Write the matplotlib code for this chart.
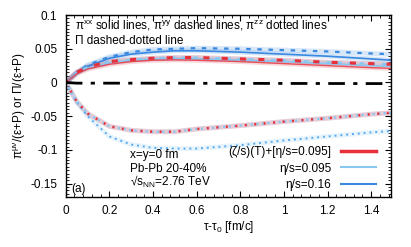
import numpy as np
import matplotlib
matplotlib.use('Agg')
import matplotlib.pyplot as plt
from matplotlib.ticker import AutoMinorLocator

plt.rcParams['font.family'] = ['Liberation Sans', 'DejaVu Sans']
plt.rcParams['mathtext.default'] = 'regular'

# proper time tau - tau0 [fm/c]
tau = [0.0, 0.05, 0.1, 0.2, 0.3, 0.4, 0.5, 0.6, 0.8, 1.0, 1.2, 1.4, 1.49]

# (zeta/s)(T) + eta/s=0.095
bulk_xx = [0.0, 0.013, 0.020, 0.027, 0.031, 0.033, 0.0335, 0.033, 0.031, 0.028, 0.025, 0.022, 0.021]
bulk_yy = [0.0, 0.015, 0.023, 0.031, 0.034, 0.036, 0.037, 0.037, 0.035, 0.033, 0.030, 0.028, 0.027]
bulk_zz = [0.0, -0.028, -0.046, -0.065, -0.071, -0.073, -0.073, -0.069, -0.064, -0.058, -0.053, -0.047, -0.045]
bulk_pi = [0.0, -0.001, -0.001, -0.001, -0.001, -0.001, -0.001, -0.0012, -0.0013, -0.0014, -0.0015, -0.0016, -0.0016]

# eta/s = 0.095
eta1_xx = [0.0, 0.014, 0.021, 0.029, 0.033, 0.035, 0.0355, 0.035, 0.033, 0.031, 0.028, 0.025, 0.024]
eta1_yy = [0.0, 0.015, 0.023, 0.031, 0.034, 0.036, 0.037, 0.037, 0.035, 0.033, 0.030, 0.028, 0.027]
eta1_zz = [0.0, -0.028, -0.046, -0.065, -0.071, -0.073, -0.073, -0.069, -0.064, -0.058, -0.053, -0.047, -0.045]

# eta/s = 0.16
eta2_xx = [0.0, 0.014, 0.024, 0.036, 0.042, 0.045, 0.047, 0.047, 0.045, 0.042, 0.039, 0.035, 0.033]
eta2_yy = [0.0, 0.015, 0.026, 0.038, 0.045, 0.049, 0.050, 0.051, 0.050, 0.048, 0.046, 0.043, 0.042]
eta2_zz = [0.0, -0.029, -0.050, -0.080, -0.092, -0.097, -0.098, -0.098, -0.093, -0.086, -0.080, -0.074, -0.072]

red = '#e8303a'
lblue = '#87c8f2'
blue = '#3a88e0'
fs = 8.5

fig = plt.figure(figsize=(4.11, 2.47), dpi=100)
ax = fig.add_axes([0.16, 0.202, 0.791, 0.737])

# soft band under each curve
for ys, c in [(eta2_yy, blue), (eta2_xx, blue), (eta1_yy, lblue), (eta1_xx, lblue),
              (bulk_yy, red), (bulk_xx, red), (eta1_zz, lblue), (bulk_zz, red), (eta2_zz, lblue)]:
    ax.plot(tau, ys, color=c, lw=3.5, alpha=0.2, solid_capstyle='butt')

ax.plot(tau, eta2_xx, color=blue, lw=1.2)
ax.plot(tau, eta2_yy, color=blue, lw=1.6, ls=(0, (2, 3)))
ax.plot(tau, eta2_zz, color='#5aaaf0', lw=1.4, ls=(0, (1, 2)))

ax.plot(tau, eta1_xx, color=lblue, lw=1.2)
ax.plot(tau, eta1_yy, color=lblue, lw=1.6, ls=(0, (2, 3)))
ax.plot(tau, eta1_zz, color=lblue, lw=1.6, ls=(0, (1, 1.5)))

ax.plot(tau, bulk_xx, color=red, lw=1.0, alpha=0.8)
ax.plot(tau, bulk_yy, color=red, lw=2.2, ls=(1, (2, 4)))
ax.plot(tau, bulk_zz, color=red, lw=1.8, ls=(0, (0.8, 3)))
ax.plot(tau, bulk_pi, color='black', lw=2.0, ls=(0, (6, 3, 1.5, 3)))

# legend handles
ax.plot([], [], color=red, lw=2.5, label='(ζ/s)(T)+[η/s=0.095]')
ax.plot([], [], color=lblue, lw=1.5, label='η/s=0.095')
ax.plot([], [], color=blue, lw=1.5, label='η/s=0.16')
handles, labels = ax.get_legend_handles_labels()
ax.legend(handles[-3:], labels[-3:], loc='lower right', bbox_to_anchor=(0.98, -0.01),
          markerfirst=False, frameon=False, fontsize=fs, handlelength=3.0,
          labelspacing=0.35, handletextpad=0.8, borderpad=0.2)

ax.set_xlim(0, 1.49)
ax.set_ylim(-0.17, 0.1)
ax.set_xticks([0, 0.2, 0.4, 0.6, 0.8, 1.0, 1.2, 1.4])
ax.set_xticklabels(['0', '0.2', '0.4', '0.6', '0.8', '1', '1.2', '1.4'])
ax.set_yticks([-0.15, -0.1, -0.05, 0, 0.05, 0.1])
ax.set_yticklabels(['-0.15', '-0.1', '-0.05', '0', '0.05', '0.1'])
ax.xaxis.set_minor_locator(AutoMinorLocator(5))
ax.yaxis.set_minor_locator(AutoMinorLocator(10))
ax.tick_params(which='both', direction='in', top=True, right=True, labelsize=fs, pad=6)
ax.tick_params(which='major', length=4, width=0.8)
ax.tick_params(which='minor', length=2, width=0.6)
for s in ax.spines.values():
    s.set_linewidth(1.0)

ax.set_xlabel('τ-τ$_0$ [fm/c]', fontsize=fs, labelpad=1)
ax.set_ylabel('π$^{μν}$/(ε+P) or Π/(ε+P)', fontsize=fs, labelpad=2)

ax.text(0.028, 0.94, 'π$^{xx}$ solid lines, π$^{yy}$ dashed lines, π$^{zz}$ dotted lines',
        transform=ax.transAxes, fontsize=fs, va='center')
ax.text(0.028, 0.857, 'Π dashed-dotted line', transform=ax.transAxes, fontsize=fs, va='center')
ax.text(0.197, 0.23, 'x=y=0 fm', transform=ax.transAxes, fontsize=fs, va='center')
ax.text(0.197, 0.154, 'Pb-Pb 20-40%', transform=ax.transAxes, fontsize=fs, va='center')
ax.text(0.197, 0.085, '√s$_{NN}$=2.76 TeV', transform=ax.transAxes, fontsize=fs, va='center')
ax.text(0.018, 0.044, '(a)', transform=ax.transAxes, fontsize=fs, va='center')

fig.savefig('out.png', dpi=100)
